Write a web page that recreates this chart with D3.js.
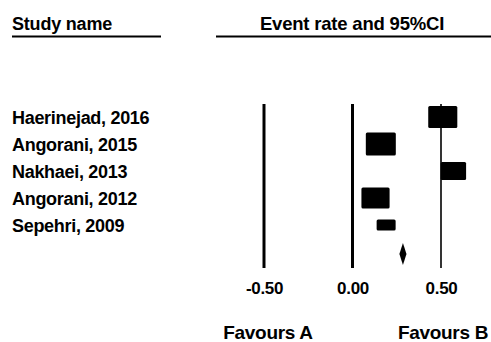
<!DOCTYPE html>
<html>
<head>
<meta charset="utf-8">
<script src="https://cdn.jsdelivr.net/npm/d3@7"></script>
<style>
  html, body { margin: 0; padding: 0; background: #fff; }
  svg { display: block; }
  text { font-family: "Liberation Sans", Arial, sans-serif; font-weight: bold; fill: #000; }
</style>
</head>
<body>
<svg id="chart" width="491" height="342"></svg>
<script>
// Study-level event rates and relative weights
const studies = ["Haerinejad, 2016", "Angorani, 2015", "Nakhaei, 2013", "Angorani, 2012", "Sepehri, 2009"];
const estimates = [0.51, 0.16, 0.57, 0.13, 0.19];
const weights = [22, 23, 18, 21, 11];

// Pooled estimate with its 95% CI
const pooled = { est: 0.285, lower: 0.265, upper: 0.305 };

// Axis ticks and reference lines
const tickValues = [-0.5, 0, 0.5];
const tickLabels = ["-0.50", "0.00", "0.50"];
const sideLabels = ["Favours A", "Favours B"];

const svg = d3.select("#chart");

const x = d3.scaleLinear().domain([-0.5, 0.5]).range([264, 441]);
const y = d3.scalePoint().domain(d3.range(studies.length + 1)).range([117, 252]);

const boxH = d3.scaleLinear().domain([0, 23]).range([0, 23]);
const boxW = d3.scaleLinear().domain([11, 23]).range([19, 30]);

// Column headers with underlines
svg.append("text").attr("x", 12).attr("y", 30)
  .attr("font-size", 18).attr("letter-spacing", -0.2)
  .text("Study name");
svg.append("line").attr("x1", 12).attr("x2", 161).attr("y1", 36.5).attr("y2", 36.5)
  .attr("stroke", "#000").attr("stroke-width", 2);

svg.append("text").attr("x", 352).attr("y", 30).attr("text-anchor", "middle")
  .attr("font-size", 18.5).attr("letter-spacing", -0.2)
  .text("Event rate and 95%CI");
svg.append("line").attr("x1", 216).attr("x2", 491).attr("y1", 36.5).attr("y2", 36.5)
  .attr("stroke", "#000").attr("stroke-width", 2);

// Vertical reference lines
svg.append("g").selectAll("line")
  .data(tickValues)
  .join("line")
  .attr("x1", d => x(d)).attr("x2", d => x(d))
  .attr("y1", 104).attr("y2", 268)
  .attr("stroke", "#000")
  .attr("stroke-width", d => d === 0.5 ? 1.6 : 3);

// Study names
svg.append("g").selectAll("text")
  .data(studies)
  .join("text")
  .attr("x", 12)
  .attr("y", (d, i) => y(i) + 7)
  .attr("font-size", 18).attr("letter-spacing", -0.3)
  .text(d => d);

// Weighted study boxes
svg.append("g").selectAll("rect")
  .data(estimates)
  .join("rect")
  .attr("x", (d, i) => x(d) - boxW(weights[i]) / 2)
  .attr("y", (d, i) => y(i) - boxH(weights[i]) / 2)
  .attr("width", (d, i) => boxW(weights[i]))
  .attr("height", (d, i) => boxH(weights[i]))
  .attr("rx", 1.5)
  .attr("fill", "#000");

// Pooled diamond
const cy = y(studies.length) + 2;
svg.append("path")
  .attr("d", `M${x(pooled.lower)},${cy} L${x(pooled.est)},${cy - 11} L${x(pooled.upper)},${cy} L${x(pooled.est)},${cy + 11} Z`)
  .attr("fill", "#000");

// Axis tick labels
const axis = d3.axisBottom(x).tickValues(tickValues)
  .tickFormat((d, i) => tickLabels[i]).tickSize(0).tickPadding(0);
const axG = svg.append("g").attr("transform", "translate(0,280)").call(axis);
axG.select(".domain").remove();
axG.selectAll("text")
  .attr("font-family", "Liberation Sans, Arial, sans-serif")
  .attr("font-weight", "bold")
  .attr("font-size", 17).attr("letter-spacing", -0.3)
  .attr("fill", "#000")
  .attr("dy", 0).attr("y", 14);

// Direction labels
svg.append("g").selectAll("text")
  .data(sideLabels)
  .join("text")
  .attr("x", (d, i) => i === 0 ? 268 : 443)
  .attr("y", 339)
  .attr("text-anchor", "middle")
  .attr("font-size", 19).attr("letter-spacing", -0.3)
  .text(d => d);
</script>
</body>
</html>
